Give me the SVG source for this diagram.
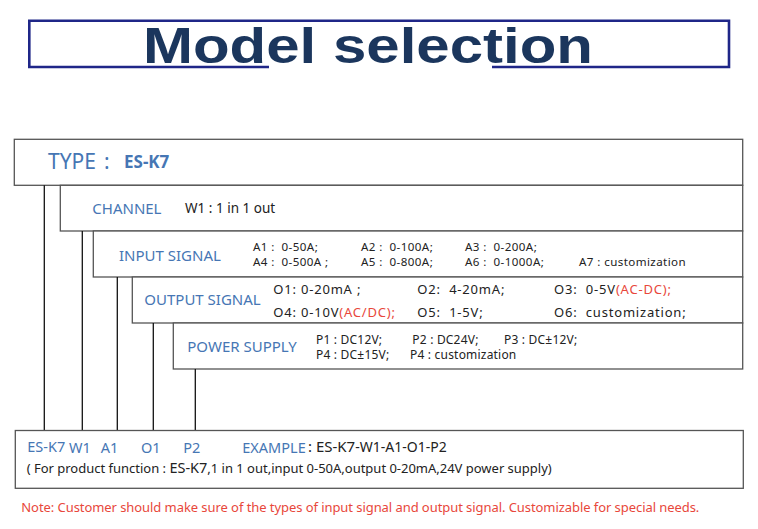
<svg xmlns="http://www.w3.org/2000/svg" width="758" height="529" viewBox="0 0 758 529">
<style>
.box{fill:#fff;stroke:#555;stroke-width:1.3}
.con{stroke:#111;stroke-width:1.3;fill:none}
.lbl{font-family:"Noto Sans","Open Sans",sans-serif;fill:#4676b4;font-size:15px}
.val{font-family:"Noto Sans","Open Sans",sans-serif;fill:#222;font-size:12px;letter-spacing:0.2px;white-space:pre}
.ain{font-size:11.6px;letter-spacing:0.4px}
.out{font-family:"Noto Sans","Open Sans",sans-serif;fill:#222;font-size:13px;letter-spacing:0.8px;white-space:pre}
.red{fill:#e8473b}
</style>
<g id="title">
<path d="M269,67 H29.3 V20.7 H729 V67 H492" fill="none" stroke="#1f2688" stroke-width="2.6"/>
<text x="143" y="63" textLength="450" lengthAdjust="spacingAndGlyphs" font-family="Liberation Sans,Arial,sans-serif" font-weight="bold" font-size="50" fill="#1b365d">Model selection</text>
</g>
<g id="type">
<rect class="box" x="14.3" y="139.3" width="728.4" height="46"/>
<text class="lbl" x="48" y="169" style="font-size:21px">TYPE<tspan x="104">:</tspan></text>
<text class="lbl" x="124" y="168" style="font-size:17px;font-weight:bold">ES-K7</text>
</g>
<g id="channel">
<rect class="box" x="60.3" y="185.3" width="682.4" height="45.7"/>
<text class="lbl" x="92.3" y="214">CHANNEL</text>
<text class="val" x="185" y="213" style="font-size:13.5px;letter-spacing:0">W1 : 1 in 1 out</text>
</g>
<g id="input">
<rect class="box" x="93.3" y="231" width="649.4" height="46"/>
<text class="lbl" x="119" y="260.5">INPUT SIGNAL</text>
<text class="val ain" x="253" y="251.2">A1 :  0-50A;</text>
<text class="val ain" x="361" y="251.2">A2 :  0-100A;</text>
<text class="val ain" x="465" y="251.2">A3 :  0-200A;</text>
<text class="val ain" x="253" y="266.3">A4 :  0-500A ;</text>
<text class="val ain" x="361" y="266.3">A5 :  0-800A;</text>
<text class="val ain" x="465" y="266.3">A6 :  0-1000A;</text>
<text class="val ain" x="579" y="266.3">A7 : customization</text>
</g>
<g id="output">
<rect class="box" x="132.3" y="277" width="610.4" height="46"/>
<text class="lbl" x="144.3" y="305">OUTPUT SIGNAL</text>
<text class="out" x="273.3" y="294">O1: 0-20mA ;</text>
<text class="out" x="417.3" y="294">O2:  4-20mA;</text>
<text class="out" x="554" y="294">O3:  0-5V<tspan class="red">(AC-DC);</tspan></text>
<text class="out" x="273.3" y="316.5">O4: 0-10V<tspan class="red">(AC/DC);</tspan></text>
<text class="out" x="417.3" y="316.5">O5:  1-5V;</text>
<text class="out" x="554" y="316.5">O6:  customization;</text>
</g>
<g id="power">
<rect class="box" x="173.3" y="323" width="569.4" height="46"/>
<text class="lbl" x="187.3" y="352.3">POWER SUPPLY</text>
<text class="val" x="316" y="344">P1 : DC12V;</text>
<text class="val" x="412.3" y="344">P2 : DC24V;</text>
<text class="val" x="504" y="344">P3 : DC±12V;</text>
<text class="val" x="316" y="359.3">P4 : DC±15V;</text>
<text class="val" x="410" y="359.3">P4 : customization</text>
</g>
<g id="connectors">
<line class="con" x1="44.3" y1="185.3" x2="44.3" y2="430.5"/>
<line class="con" x1="82.3" y1="231" x2="82.3" y2="430.5"/>
<line class="con" x1="117.3" y1="277" x2="117.3" y2="430.5"/>
<line class="con" x1="153.3" y1="323" x2="153.3" y2="430.5"/>
<line class="con" x1="195.3" y1="369" x2="195.3" y2="430.5"/>
</g>
<g id="example">
<rect class="box" x="15.3" y="430.5" width="728" height="57.8"/>
<text class="lbl" x="27.3" y="451.5" style="font-size:14.5px">ES-K7</text>
<text class="lbl" x="69" y="453" style="font-size:14.5px">W1</text>
<text class="lbl" x="100.7" y="453" style="font-size:14.5px">A1</text>
<text class="lbl" x="141" y="453" style="font-size:14.5px">O1</text>
<text class="lbl" x="183.3" y="453" style="font-size:14.5px">P2</text>
<text class="lbl" x="242.3" y="453" style="font-size:14.5px">EXAMPLE</text>
<text class="val" x="308" y="452" style="font-size:15px;letter-spacing:0">: ES-K7<tspan style="font-size:14px">-W1-A1-O1-P2</tspan></text>
<text class="val" x="26.7" y="473.3" style="font-size:13px;letter-spacing:0" textLength="525" lengthAdjust="spacing">( For product function : <tspan style="font-size:14.5px">ES-K7</tspan>,1 in 1 out,input 0-50A,output 0-20mA,24V power supply)</text>
</g>
<g id="note">
<text x="21.3" y="511.7" font-family="Noto Sans,Open Sans,sans-serif" font-size="13" fill="#e8473b" textLength="678" lengthAdjust="spacing">Note: Customer should make sure of the types of input signal and output signal. Customizable for special needs.</text>
</g>
</svg>
